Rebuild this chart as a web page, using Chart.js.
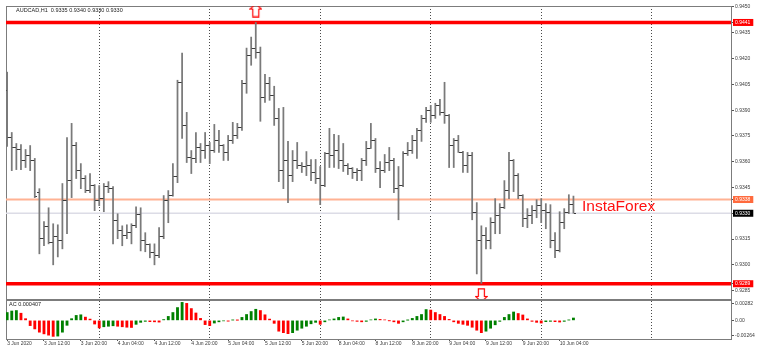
<!DOCTYPE html>
<html><head><meta charset="utf-8">
<script src="https://cdn.jsdelivr.net/npm/chart.js@4.4.1/dist/chart.umd.min.js"></script>
<style>
html,body{margin:0;padding:0;background:#fff;width:767px;height:361px;overflow:hidden;position:relative;}
canvas{position:absolute;left:0;}
#main{top:0;}
#ac{top:297px;}
.t{position:absolute;font-family:'Liberation Sans',Arial,sans-serif;white-space:nowrap;line-height:1;}
</style></head><body>
<canvas id="main" width="767" height="300"></canvas>
<canvas id="ac" width="767" height="64"></canvas>
<div class="t" style="left:16px;top:8px;font-size:5.5px;color:#222">AUDCAD,H1&nbsp; 0.9335 0.9340 0.9330 0.9330</div>
<div class="t" style="left:9px;top:302px;font-size:5.5px;color:#222">AC 0.000407</div>
<div class="t" style="left:582px;top:197.5px;font-size:15.5px;color:#ff1010">InstaForex</div>
<script>
// ---------- DATA ----------
const opens = [0.94015,0.93741,0.93683,0.93671,0.93607,0.93636,0.93607,0.93420,0.93152,0.93222,0.93128,0.93163,0.93140,0.93373,0.93490,0.93694,0.93548,0.93502,0.93432,0.93461,0.93373,0.93385,0.93455,0.93443,0.93257,0.93198,0.93169,0.93187,0.93227,0.93292,0.93140,0.93116,0.93070,0.93052,0.93163,0.93373,0.93403,0.93513,0.94062,0.93811,0.93624,0.93619,0.93683,0.93665,0.93694,0.93665,0.93724,0.93694,0.93654,0.93724,0.93753,0.93799,0.94056,0.94220,0.94261,0.94237,0.93975,0.94056,0.93986,0.93852,0.93548,0.93607,0.93519,0.93607,0.93578,0.93572,0.93578,0.93537,0.93502,0.93461,0.93648,0.93636,0.93665,0.93607,0.93578,0.93560,0.93537,0.93548,0.93607,0.93677,0.93724,0.93560,0.93548,0.93595,0.93607,0.93443,0.93461,0.93648,0.93665,0.93724,0.93782,0.93852,0.93899,0.93870,0.93928,0.93887,0.93870,0.93694,0.93724,0.93654,0.93578,0.93636,0.93303,0.93140,0.93169,0.93140,0.93245,0.93286,0.93332,0.93432,0.93607,0.93519,0.93403,0.93268,0.93286,0.93315,0.93344,0.93315,0.93303,0.93140,0.93081,0.93245,0.93303,0.93350];
const highs = [0.94121,0.93770,0.93706,0.93700,0.93671,0.93694,0.93619,0.93443,0.93251,0.93332,0.93239,0.93233,0.93473,0.93741,0.93823,0.93712,0.93589,0.93519,0.93531,0.93467,0.93461,0.93473,0.93484,0.93455,0.93297,0.93227,0.93233,0.93239,0.93338,0.93332,0.93187,0.93122,0.93122,0.93216,0.93403,0.93432,0.93589,0.94074,0.94232,0.93887,0.93665,0.93770,0.93706,0.93770,0.93712,0.93817,0.93782,0.93700,0.93753,0.93829,0.93823,0.94074,0.94261,0.94325,0.94410,0.94267,0.94109,0.94091,0.94039,0.93910,0.93916,0.93718,0.93665,0.93712,0.93595,0.93659,0.93613,0.93613,0.93572,0.93654,0.93794,0.93759,0.93753,0.93706,0.93589,0.93566,0.93560,0.93619,0.93718,0.93823,0.93735,0.93601,0.93642,0.93683,0.93619,0.93572,0.93659,0.93712,0.93753,0.93794,0.93870,0.93916,0.93928,0.93940,0.93963,0.94062,0.93875,0.93735,0.93753,0.93660,0.93654,0.93654,0.93362,0.93227,0.93216,0.93274,0.93385,0.93356,0.93490,0.93654,0.93613,0.93531,0.93408,0.93327,0.93344,0.93379,0.93385,0.93356,0.93350,0.93187,0.93309,0.93327,0.93408,0.93400];
const lows = [0.93689,0.93548,0.93554,0.93554,0.93566,0.93548,0.93391,0.93064,0.93111,0.93122,0.93000,0.93046,0.93093,0.93181,0.93391,0.93502,0.93443,0.93420,0.93420,0.93315,0.93344,0.93309,0.93420,0.93122,0.93152,0.93111,0.93152,0.93122,0.93216,0.93081,0.93076,0.93041,0.93000,0.93041,0.93152,0.93245,0.93400,0.93478,0.93735,0.93595,0.93531,0.93595,0.93595,0.93619,0.93589,0.93654,0.93654,0.93607,0.93607,0.93706,0.93735,0.93782,0.93998,0.94161,0.94202,0.93835,0.93945,0.93957,0.93811,0.93484,0.93443,0.93362,0.93484,0.93560,0.93537,0.93519,0.93490,0.93473,0.93350,0.93455,0.93566,0.93566,0.93560,0.93543,0.93525,0.93502,0.93490,0.93490,0.93578,0.93677,0.93537,0.93449,0.93537,0.93548,0.93420,0.93262,0.93455,0.93636,0.93648,0.93619,0.93718,0.93829,0.93829,0.93852,0.93870,0.93823,0.93566,0.93566,0.93654,0.93537,0.93537,0.93262,0.92947,0.92892,0.93093,0.93093,0.93181,0.93181,0.93327,0.93385,0.93426,0.93385,0.93222,0.93216,0.93239,0.93274,0.93245,0.93210,0.93099,0.93041,0.93075,0.93210,0.93298,0.93300];
const closes = [0.93741,0.93683,0.93671,0.93607,0.93636,0.93607,0.93397,0.93152,0.93222,0.93128,0.93163,0.93140,0.93373,0.93490,0.93694,0.93548,0.93502,0.93432,0.93461,0.93373,0.93385,0.93455,0.93443,0.93257,0.93198,0.93169,0.93187,0.93227,0.93292,0.93140,0.93116,0.93070,0.93052,0.93163,0.93373,0.93403,0.93513,0.94062,0.93811,0.93624,0.93619,0.93683,0.93665,0.93694,0.93665,0.93724,0.93694,0.93654,0.93724,0.93753,0.93799,0.94056,0.94220,0.94261,0.94237,0.93975,0.94056,0.93986,0.93852,0.93548,0.93607,0.93519,0.93607,0.93578,0.93572,0.93578,0.93537,0.93502,0.93461,0.93648,0.93636,0.93665,0.93607,0.93578,0.93560,0.93537,0.93548,0.93607,0.93677,0.93724,0.93560,0.93548,0.93595,0.93607,0.93443,0.93461,0.93648,0.93665,0.93724,0.93782,0.93852,0.93899,0.93870,0.93928,0.93887,0.93870,0.93694,0.93724,0.93654,0.93578,0.93636,0.93303,0.93140,0.93169,0.93140,0.93245,0.93286,0.93332,0.93432,0.93607,0.93519,0.93403,0.93268,0.93286,0.93315,0.93344,0.93315,0.93303,0.93140,0.93081,0.93245,0.93303,0.93350,0.93300];
const acValues = [0.00135,0.00161,0.00169,0.00123,0.00029,-0.00090,-0.00147,-0.00203,-0.00232,-0.00254,-0.00275,-0.00270,-0.00203,-0.00085,0.00029,0.00085,0.00096,0.00056,0.00022,-0.00063,-0.00130,-0.00110,-0.00101,-0.00093,-0.00101,-0.00110,-0.00118,-0.00122,-0.00068,-0.00034,-0.00017,-0.00022,-0.00025,-0.00030,0.00014,0.00068,0.00135,0.00220,0.00309,0.00292,0.00203,0.00127,0.00034,-0.00073,-0.00090,-0.00046,-0.00025,-0.00008,-0.00014,0.00005,0.00002,0.00051,0.00101,0.00152,0.00191,0.00169,0.00096,0.00022,-0.00051,-0.00186,-0.00211,-0.00228,-0.00211,-0.00169,-0.00135,-0.00101,-0.00059,-0.00034,-0.00068,-0.00025,0.00008,0.00025,0.00051,0.00059,0.00025,-0.00008,-0.00017,-0.00025,-0.00017,0.00008,0.00025,0.00017,0.00008,-0.00003,-0.00025,-0.00051,-0.00025,0.00003,0.00034,0.00068,0.00101,0.00186,0.00177,0.00135,0.00101,0.00068,0.00017,-0.00025,-0.00051,-0.00068,-0.00085,-0.00118,-0.00169,-0.00211,-0.00186,-0.00135,-0.00076,-0.00017,0.00051,0.00101,0.00144,0.00118,0.00093,0.00025,-0.00017,-0.00034,-0.00046,-0.00022,-0.00017,-0.00022,-0.00029,-0.00017,0.00005,0.000407];

const timeLabelPositions = [0,8,16,24,32,40,48,56,64,72,80,88,96,104,112,120];
const timeLabels = ['3 Jun 2020','3 Jun 12:00','3 Jun 20:00','4 Jun 04:00','4 Jun 12:00','4 Jun 20:00','5 Jun 04:00','5 Jun 12:00','5 Jun 20:00','8 Jun 04:00','8 Jun 12:00','8 Jun 20:00','9 Jun 04:00','9 Jun 12:00','9 Jun 20:00','10 Jun 04:00'];
const daySeparators = [20,44,68,92,116,140];

const priceTicks = [0.9450,0.9435,0.9420,0.9405,0.9390,0.9375,0.9360,0.9345,0.9315,0.9300,0.9285];
const priceTickLabels = ['0.9450','0.9435','0.9420','0.9405','0.9390','0.9375','0.9360','0.9345','0.9315','0.9300','0.9285'];
const levelValues = [0.9441,0.9338,0.9330,0.9289];
const levelLabels = ['0.9441','0.9338','0.9330','0.9289'];

const acTicks = [0.00282,0,-0.00264];
const acTickLabels = ['0.00282','0.00','-0.00264'];

const arrowUpX = [54], arrowUpY = [0.94482];
const arrowDownX = [103], arrowDownY = [0.92822];

// ---------- STYLE ----------
const X_MIN = -0.25, X_MAX = 157.22;
const Y_MIN = 0.928012, Y_MAX = 0.945058;
const AC_MIN = -0.0032, AC_MAX = 0.0035;
const FONT = 'Liberation Sans';
const levelBox = ['#ff0000','#ff6a3d','#000000','#ff0000'];
const levelLine = ['#ff0000','#ffb293','#dcdce6','#ff0000'];
const levelWidth = [3.5,1.8,1.5,3.5];
const FRAME = '#7c7c7c';

function tickCanvas(left){
  const c=document.createElement('canvas');c.width=5;c.height=1;
  const g=c.getContext('2d');g.fillStyle='#3a3a3a';g.fillRect(left?0:3,0,2,1);return c;
}
function arrowCanvas(up){
  const c=document.createElement('canvas');c.width=13;c.height=15;
  const g=c.getContext('2d');g.strokeStyle='#ff0000';g.lineWidth=1.2;
  const p = up ? [[6.5,0.8],[12.2,6.5],[9.5,6.5],[9.5,14.2],[3.5,14.2],[3.5,6.5],[0.8,6.5]]
               : [[3.5,0.8],[9.5,0.8],[9.5,8.5],[12.2,8.5],[6.5,14.2],[0.8,8.5],[3.5,8.5]];
  g.beginPath();g.moveTo(p[0][0],p[0][1]);for(let k=1;k<p.length;k++)g.lineTo(p[k][0],p[k][1]);g.closePath();g.stroke();
  return c;
}
const noPad = s => { s.paddingTop = 0; s.paddingBottom = 0; s.paddingLeft = 0; s.paddingRight = 0; };
const pointOpts = {pointRadius:1, pointHoverRadius:0, pointBorderWidth:0, pointHitRadius:0};

const labelMap = new Map();
priceTicks.forEach((v,i)=>labelMap.set(v,priceTickLabels[i]));
levelValues.forEach((v,i)=>labelMap.set(v,levelLabels[i]));
const allPriceTicks = priceTicks.concat(levelValues).sort((a,b)=>a-b);
const levelIndex = v => levelValues.indexOf(v);

const frameAxis = (axis, pos, min, max) => ({
  axis, position: pos, type:'linear', min, max, offset:false,
  ticks:{display:false}, grid:{display:false, drawTicks:false},
  border:{display:true, color:FRAME, width:1},
  afterFit: s => { noPad(s); if (axis==='x') s.height = 0; else s.width = 0; }
});

// ---------- MAIN CHART ----------
const hlData = highs.map((h,i)=>({x:i, y:[lows[i], h]}));
const levelDatasets = levelValues.map((v,i)=>({
  type:'line', data:[{x:X_MIN,y:v},{x:X_MAX,y:v}], borderColor:levelLine[i], borderWidth:levelWidth[i],
  pointRadius:0, pointHoverRadius:0, xAxisID:'x', yAxisID:'y', order:10-i
}));

new Chart(document.getElementById('main'), {
  type:'bar',
  data:{datasets:[
    ...levelDatasets,
    {type:'bar', data:hlData, backgroundColor:'#7a7a7a', barThickness:1.1, grouped:false, xAxisID:'x', yAxisID:'y', order:3},
    {type:'scatter', data:opens.map((v,i)=>({x:i,y:v})), pointStyle:tickCanvas(true), ...pointOpts, xAxisID:'x', yAxisID:'y', order:2},
    {type:'scatter', data:closes.map((v,i)=>({x:i,y:v})), pointStyle:tickCanvas(false), ...pointOpts, xAxisID:'x', yAxisID:'y', order:2},
    {type:'scatter', data:arrowUpX.map((x,i)=>({x,y:arrowUpY[i]})), pointStyle:arrowCanvas(true), ...pointOpts, clip:0, xAxisID:'x', yAxisID:'y', order:1},
    {type:'scatter', data:arrowDownX.map((x,i)=>({x,y:arrowDownY[i]})), pointStyle:arrowCanvas(false), ...pointOpts, clip:0, xAxisID:'x', yAxisID:'y', order:1}
  ]},
  options:{
    responsive:false, animation:false, events:[],
    layout:{padding:{left:6, top:6, right:0, bottom:0}},
    plugins:{legend:{display:false}, tooltip:{enabled:false}},
    scales:{
      x:{axis:'x', type:'linear', position:'bottom', min:X_MIN, max:X_MAX, offset:false,
        afterBuildTicks: s => { s.ticks = daySeparators.map(v=>({value:v})); },
        afterFit: s => { noPad(s); s.height = 0; },
        ticks:{display:false},
        grid:{display:true, offset:false, drawOnChartArea:true, drawTicks:false, color:'#4a4a4a', lineWidth:1},
        border:{display:true, color:FRAME, width:1, dash:[1,2]}
      },
      xt: frameAxis('x','top',X_MIN,X_MAX),
      yl: frameAxis('y','left',Y_MIN,Y_MAX),
      y:{axis:'y', type:'linear', position:'right', min:Y_MIN, max:Y_MAX,
        afterBuildTicks: s => { s.ticks = allPriceTicks.map(v=>({value:v})); },
        afterFit: s => { noPad(s); s.width = 36; },
        grid:{display:true, drawOnChartArea:false, drawTicks:true, tickLength:3, color:'#555', lineWidth:1},
        border:{display:true, color:FRAME, width:1},
        ticks:{autoSkip:false, padding:1, font:{family:FONT, size:5}, 
          callback: v => labelMap.get(v) || '',
          color: c => levelIndex(c.tick.value) >= 0 ? '#ffffff' : '#3a3a3a',
          showLabelBackdrop: c => levelIndex(c.tick.value) >= 0,
          backdropColor: c => { const k = levelIndex(c.tick.value); return k>=0 ? levelBox[k] : 'rgba(0,0,0,0)'; },
          backdropPadding:{left:2,right:3,top:0.5,bottom:0.5}
        }
      }
    }
  }
});

// ---------- AC CHART ----------
const acColors = acValues.map((v,i)=> (i===0 || v > acValues[i-1]) ? '#008000' : '#ff0000');
new Chart(document.getElementById('ac'), {
  type:'bar',
  data:{datasets:[{data:acValues.map((v,i)=>({x:i,y:v})), backgroundColor:acColors, barThickness:2.2, grouped:false, xAxisID:'x', yAxisID:'y'}]},
  options:{
    responsive:false, animation:false, events:[],
    layout:{padding:{left:6, top:3, right:0, bottom:0}},
    plugins:{legend:{display:false}, tooltip:{enabled:false}},
    scales:{
      x:{axis:'x', type:'linear', position:'bottom', min:X_MIN, max:X_MAX, offset:false,
        afterBuildTicks: s => { s.ticks = timeLabelPositions.map(v=>({value:v})); },
        afterFit: s => { noPad(s); s.height = 22; },
        ticks:{autoSkip:false, maxRotation:0, minRotation:0, align:'start', padding:0, font:{family:FONT, size:5}, color:'#3a3a3a',
          callback:(v,i)=> timeLabels[i]},
        grid:{display:true, offset:false, drawOnChartArea:false, drawTicks:true, tickLength:2, color:'#555'},
        border:{display:true, color:FRAME, width:1}
      },
      xg:{axis:'x', type:'linear', position:'top', min:X_MIN, max:X_MAX, offset:false,
        afterBuildTicks: s => { s.ticks = daySeparators.map(v=>({value:v})); },
        afterFit: s => { noPad(s); s.height = 0; },
        ticks:{display:false},
        grid:{display:true, offset:false, drawOnChartArea:true, drawTicks:false, color:'#4a4a4a', lineWidth:1},
        border:{display:true, color:FRAME, width:1, dash:[1,2]}
      },
      yl: frameAxis('y','left',AC_MIN,AC_MAX),
      y:{axis:'y', type:'linear', position:'right', min:AC_MIN, max:AC_MAX,
        afterBuildTicks: s => { s.ticks = acTicks.map(v=>({value:v})); },
        afterFit: s => { noPad(s); s.width = 36; },
        grid:{display:true, drawOnChartArea:false, drawTicks:true, tickLength:3, color:'#555'},
        border:{display:true, color:FRAME, width:1},
        ticks:{autoSkip:false, padding:1, font:{family:FONT, size:5}, color:'#3a3a3a',
          callback:(v,i)=> acTickLabels[i]}
      }
    }
  }
});
</script>
</body></html>
